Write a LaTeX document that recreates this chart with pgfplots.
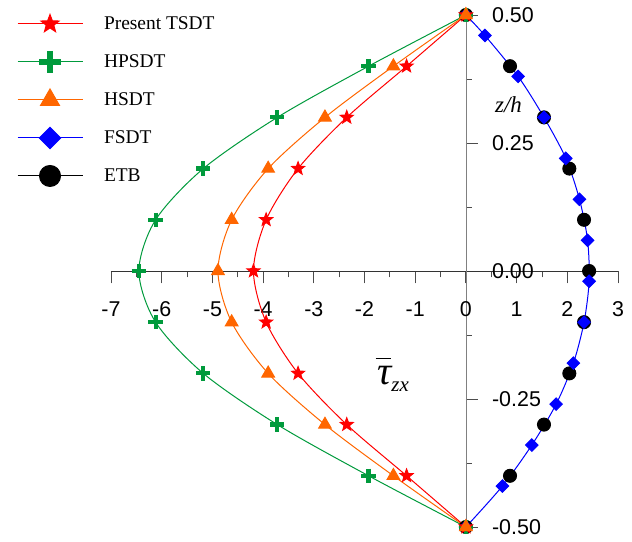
\documentclass[border=0pt]{standalone}
\usepackage{fontspec}
\usepackage{pgfplots}
\pgfplotsset{compat=1.18}
\setmainfont{Liberation Serif}
\newfontfamily\arial{Liberation Sans}

\definecolor{tsdtred}{HTML}{FF0000}
\definecolor{hpgreen}{HTML}{009A3C}
\definecolor{hsorange}{HTML}{FF6600}
\definecolor{fsblue}{HTML}{0000FF}

% filled five pointed star
\pgfdeclareplotmark{fstar}{%
  \pgfpathmoveto{\pgfpointpolar{90}{\pgfplotmarksize}}%
  \pgfpathlineto{\pgfpointpolar{126}{0.42\pgfplotmarksize}}%
  \pgfpathlineto{\pgfpointpolar{162}{\pgfplotmarksize}}%
  \pgfpathlineto{\pgfpointpolar{198}{0.42\pgfplotmarksize}}%
  \pgfpathlineto{\pgfpointpolar{234}{\pgfplotmarksize}}%
  \pgfpathlineto{\pgfpointpolar{270}{0.42\pgfplotmarksize}}%
  \pgfpathlineto{\pgfpointpolar{306}{\pgfplotmarksize}}%
  \pgfpathlineto{\pgfpointpolar{342}{0.42\pgfplotmarksize}}%
  \pgfpathlineto{\pgfpointpolar{18}{\pgfplotmarksize}}%
  \pgfpathlineto{\pgfpointpolar{54}{0.42\pgfplotmarksize}}%
  \pgfpathclose
  \pgfusepathqfillstroke}

\begin{document}
\begin{tikzpicture}
\begin{axis}[
    scale only axis,
    width=507bp, height=512bp,
    xmin=-7, xmax=3, ymin=-0.5, ymax=0.5,
    clip=false,
    axis lines=middle,
    axis line style={-},
    x axis line style={black!80},
    y axis line style={black!50},
    xtick={-7,-6,...,3},
    ytick={-0.5,-0.25,0,0.25,0.5},
    minor x tick num=1, minor y tick num=1,
    hide obscured x ticks=false, hide obscured y ticks=false,
    xtick align=outside, ytick align=inside,
    major tick length=12.5bp, minor tick length=6.5bp,
    tick style={black!70, line width=0.8bp},
    /pgf/number format/assume math mode=true,
    ticklabel style={font=\arial\fontsize{21.5}{22}\selectfont},
    yticklabel style={/pgf/number format/fixed, /pgf/number format/fixed zerofill,
        /pgf/number format/precision=2, anchor=west, inner sep=0pt, xshift=26bp},
    xticklabel style={inner sep=0pt, yshift=-18bp},
    every axis plot/.append style={line width=1bp},
    legend cell align=left,
    legend style={draw=none, fill=none, inner sep=0pt, outer sep=0pt,
        at={(-0.1854,1.0059)}, anchor=north west,
        row sep=14bp, column sep=21bp,
        nodes={inner sep=0pt, minimum height=24bp},
        font=\fontsize{19.5}{20}\selectfont},
    legend image code/.code={%
        \draw[#1, mark=none] (0bp,0bp) -- (65bp,0bp);
        \draw[#1, only marks] plot coordinates {(32.5bp,0bp)};},
]

% ETB
\addplot[forget plot, only marks, black, mark=*, mark size=6.5bp] coordinates {
    (0,0.5) (0.87,0.4) (1.54,0.3) (2.04,0.2) (2.33,0.1) (2.43,0)
    (2.33,-0.1) (2.04,-0.2) (1.54,-0.3) (0.87,-0.4) (0,-0.5)
};
% FSDT
\addplot[forget plot, fsblue, smooth, mark=square*, mark size=4.4bp, mark options={rotate=45}] coordinates {
    (0,-0.5) (0.72,-0.42) (1.30,-0.34) (1.78,-0.26) (2.12,-0.18) (2.33,-0.10)
    (2.43,-0.02) (2.40,0.06) (2.24,0.14) (1.97,0.22) (1.54,0.30) (1.03,0.38)
    (0.375,0.46) (0,0.5)
};
% HPSDT
\addplot[forget plot, hpgreen, smooth, mark=+, mark size=7.2bp, mark options={line width=4.2bp}] coordinates {
    (0,0.5) (-1.92,0.4) (-3.72,0.3) (-5.18,0.2) (-6.12,0.1) (-6.45,0)
    (-6.12,-0.1) (-5.18,-0.2) (-3.72,-0.3) (-1.92,-0.4) (0,-0.5)
};
% Present TSDT
\addplot[forget plot, tsdtred, smooth, mark=fstar, mark size=6.8bp] coordinates {
    (0,0.5) (-1.17,0.4) (-2.35,0.3) (-3.31,0.2) (-3.94,0.1) (-4.19,0)
    (-3.94,-0.1) (-3.31,-0.2) (-2.35,-0.3) (-1.17,-0.4) (0,-0.5)
};
% HSDT
\addplot[forget plot, hsorange, smooth, mark=triangle*, mark size=7.3bp] coordinates {
    (0,0.5) (-1.43,0.4) (-2.78,0.3) (-3.90,0.2) (-4.62,0.1) (-4.89,0)
    (-4.62,-0.1) (-3.90,-0.2) (-2.78,-0.3) (-1.43,-0.4) (0,-0.5)
};

\addlegendimage{tsdtred, line width=1bp, mark=fstar, mark size=9.5bp}
\addlegendentry{Present TSDT}
\addlegendimage{hpgreen, line width=1bp, mark=+, mark size=11bp, mark options={line width=6bp}}
\addlegendentry{HPSDT}
\addlegendimage{hsorange, line width=1bp, mark=triangle*, mark size=11bp}
\addlegendentry{HSDT}
\addlegendimage{fsblue, line width=1bp, mark=square*, mark size=7.5bp, mark options={rotate=45}}
\addlegendentry{FSDT}
\addlegendimage{black, line width=1bp, mark=*, mark size=10.5bp}
\addlegendentry{ETB}

\node[anchor=base west, inner sep=0pt] at (axis cs:-1.755,-0.221)
    {\rlap{\hspace{-1.5bp}\rule[25bp]{15bp}{1.4bp}}{\fontsize{40}{40}\selectfont\itshape τ}\raisebox{-7bp}{\fontsize{21}{21}\selectfont\itshape zx}};
\node[anchor=base west, inner sep=0pt, font=\fontsize{23}{23}\selectfont\itshape] at (axis cs:0.572,0.309) {z/h};
\end{axis}
\pgfresetboundingbox
\path (-111bp,-15bp) rectangle (521bp,527bp);
\end{tikzpicture}
\end{document}
